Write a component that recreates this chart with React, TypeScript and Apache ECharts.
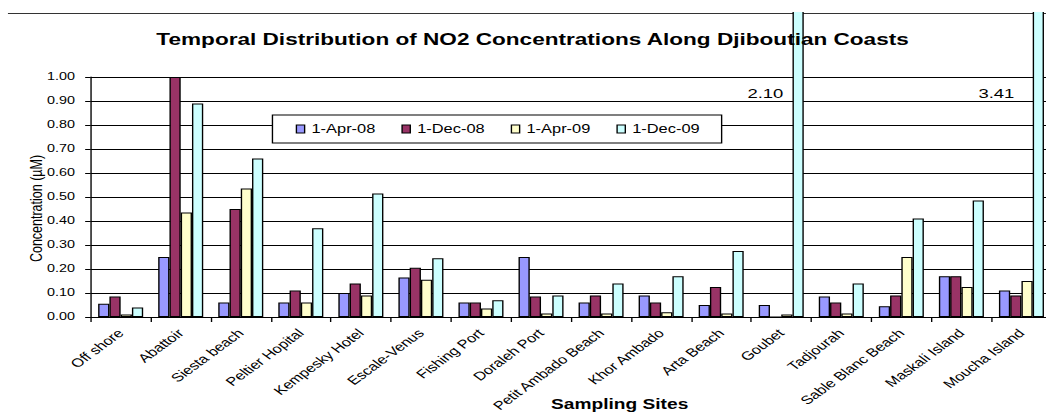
import React, { useEffect, useRef } from 'react';
import * as echarts from 'echarts';

const sites = [
  'Off shore', 'Abattoir', 'Siesta beach', 'Peltier Hopital', 'Kempesky Hotel',
  'Escale-Venus', 'Fishing Port', 'Doraleh Port', 'Petit Ambado Beach', 'Khor Ambado',
  'Arta Beach', 'Goubet', 'Tadjourah', 'Sable Blanc Beach', 'Maskali Island', 'Moucha Island',
];
const seriesNames = ['1-Apr-08', '1-Dec-08', '1-Apr-09', '1-Dec-09'];
const apr08 = [0.055, 0.25, 0.06, 0.06, 0.10, 0.165, 0.06, 0.25, 0.06, 0.09, 0.05, 0.05, 0.085, 0.045, 0.17, 0.11];
const dec08 = [0.085, 1.0, 0.45, 0.11, 0.14, 0.205, 0.06, 0.085, 0.09, 0.06, 0.125, 0, 0.06, 0.09, 0.17, 0.09];
const apr09 = [0.01, 0.435, 0.535, 0.06, 0.09, 0.155, 0.035, 0.015, 0.015, 0.02, 0.015, 0.01, 0.015, 0.25, 0.125, 0.15];
const dec09 = [0.04, 0.89, 0.66, 0.37, 0.515, 0.245, 0.07, 0.09, 0.14, 0.17, 0.275, 2.10, 0.14, 0.41, 0.485, 3.41];
const titleText = 'Temporal Distribution of NO2 Concentrations Along Djiboutian Coasts';

const W = 764;
const H = 402;
const SX = 1046 / W;

export default function App() {
  const ref = useRef<HTMLDivElement>(null);
  useEffect(() => {
    if (!ref.current) return;
    const chart = echarts.init(ref.current, null, { renderer: 'svg', width: W, height: H });
    const font = '"Liberation Sans", Arial, sans-serif';
    const colors = ['#9999FF', '#993366', '#FFFFCC', '#CCFFFF'];
    const data = [apr08, dec08, apr09, dec09];
    const offsets: Record<number, number[]> = { 11: [-10.8, 0], 15: [-17.5, 0] };
    const overflow = dec09
      .map((v, i) => ({ v, i }))
      .filter((d) => d.v > 1)
      .map((d) => ({ coord: [d.i, 0.933], value: d.v, label: { offset: offsets[d.i] || [0, 0] } }));

    chart.setOption({
      animation: false,
      textStyle: { fontFamily: font, color: '#000' },
      title: {
        text: titleText,
        left: 389,
        top: 18.5,
        padding: 0,
        textAlign: 'center',
        textStyle: { fontSize: 16.5, fontWeight: 'bold', color: '#000', fontFamily: font },
      },
      legend: {
        left: 199,
        top: 103,
        orient: 'horizontal',
        padding: [8, 16, 8, 17],
        itemGap: 19,
        itemWidth: 6,
        itemHeight: 8,
        icon: 'rect',
        borderColor: '#000',
        borderWidth: 1,
        borderRadius: 0,
        backgroundColor: '#fff',
        textStyle: { fontSize: 12, color: '#000', fontFamily: font },
        itemStyle: { borderColor: '#000', borderWidth: 1 },
      },
      grid: { left: 66.2, right: -4, top: 65, bottom: 97, containLabel: false, outerBoundsMode: 'none' },
      xAxis: {
        type: 'category',
        data: sites,
        name: 'Sampling Sites',
        nameLocation: 'middle',
        nameGap: 80,
        nameMoveOverlap: false,
        nameTextStyle: { fontSize: 14, fontWeight: 'bold', color: '#000', fontFamily: font, padding: [0, 0, 0, 71] },
        axisLine: { show: true, lineStyle: { color: '#000', width: 1 } },
        axisTick: { show: true, length: 5, lineStyle: { color: '#000' } },
        axisLabel: { interval: 0, rotate: 45, fontSize: 12, color: '#000', fontFamily: font, margin: 14 },
        splitLine: { show: false },
      },
      yAxis: {
        type: 'value',
        min: 0,
        max: 1,
        interval: 0.1,
        name: 'Concentration (µM)',
        nameLocation: 'middle',
        nameGap: 33.5,
        nameRotate: 90,
        nameMoveOverlap: false,
        nameTextStyle: { fontSize: 12.5, color: '#000', fontFamily: font, padding: [0, 23, 0, 0] },
        axisLine: { show: true, lineStyle: { color: '#000', width: 1 } },
        axisTick: { show: true, length: 4, lineStyle: { color: '#000' } },
        axisLabel: { fontSize: 10.5, color: '#000', fontFamily: font, margin: 11.5, formatter: (v: number) => v.toFixed(2) },
        splitLine: { show: true, lineStyle: { color: '#000', width: 1 } },
      },
      graphic: [
        {
          type: 'line',
          z: 0,
          shape: { x1: 5.8, y1: 1.5, x2: W, y2: 1.5 },
          style: { stroke: '#333', lineWidth: 1 },
        },
      ],
      series: seriesNames.map((name, i) => ({
        type: 'bar',
        name,
        data: data[i],
        barGap: '0%',
        barCategoryGap: '25%',
        clip: false,
        itemStyle: { color: colors[i], borderColor: '#000', borderWidth: 1 },
        ...(i === 3
          ? {
              markPoint: {
                symbol: 'rect',
                symbolSize: 0,
                silent: true,
                data: overflow,
                label: {
                  show: true,
                  position: 'left',
                  distance: 0,
                  fontSize: 13.5,
                  color: '#000',
                  fontFamily: font,
                  formatter: (p: any) => Number(p.value).toFixed(2),
                },
              },
            }
          : {}),
      })),
    });
    return () => chart.dispose();
  }, []);
  return (
    <div
      ref={ref}
      style={{
        position: 'absolute',
        left: 0,
        top: 12,
        width: W,
        height: H,
        transform: `scaleX(${SX})`,
        transformOrigin: '0 0',
        overflow: 'hidden',
      }}
    />
  );
}
